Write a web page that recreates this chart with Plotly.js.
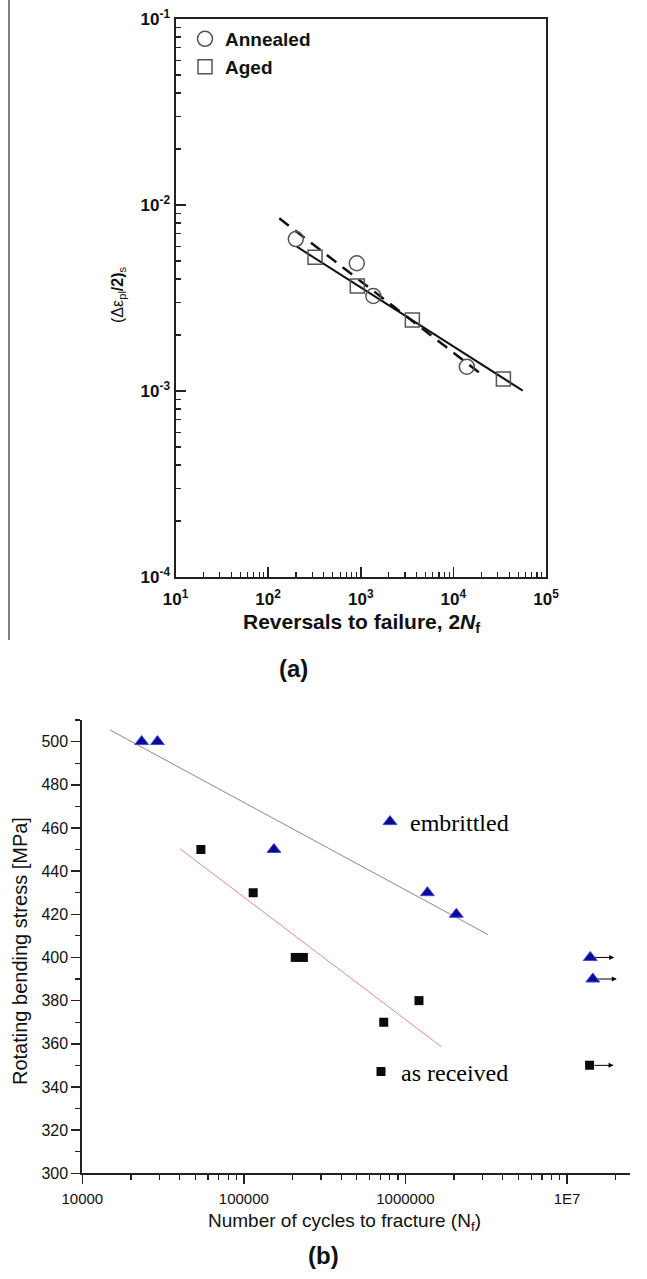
<!DOCTYPE html>
<html>
<head>
<meta charset="utf-8">
<script src="https://cdn.plot.ly/plotly-3.0.1.min.js"></script>
<style>html,body{margin:0;padding:0;background:#fff;}#chart{width:647px;height:1279px;}</style>
</head>
<body>
<div id="chart"></div>
<script>
// ---------- Panel (a) data ----------
const annealedN = [199, 906, 1368, 13960];
const annealedStrain = [0.00656, 0.00486, 0.00324, 0.00135];
const agedN = [321, 918, 3606, 34670];
const agedStrain = [0.00524, 0.00367, 0.00241, 0.00116];
const fitSolidN = [204, 56100];
const fitSolidStrain = [0.00597, 0.001005];
const fitDashN = [132, 19100];
const fitDashStrain = [0.00848, 0.001254];
const aXTickVals = [10, 100, 1000, 10000, 100000];
const aXTickText = ['10<sup>1</sup>', '10<sup>2</sup>', '10<sup>3</sup>', '10<sup>4</sup>', '10<sup>5</sup>'];
const aYTickVals = [0.0001, 0.001, 0.01, 0.1];
const aYTickText = ['10<sup>-4</sup>', '10<sup>-3</sup>', '10<sup>-2</sup>', '10<sup>-1</sup>'];

// ---------- Panel (b) data ----------
const embrittledN = [23300, 29200, 153500, 1368000, 2065000];
const embrittledS = [500, 500, 450, 430, 420];
const embrittledRunoutN = [13930000, 14450000];
const embrittledRunoutS = [400, 390];
const receivedN = [54200, 114200, 208000, 233500, 734000, 1213000];
const receivedS = [450, 430, 400, 400, 370, 380];
const receivedRunoutN = [13800000];
const receivedRunoutS = [350];
const embrittledFitN = [14830, 3240000];
const embrittledFitS = [505.4, 410.6];
const receivedFitN = [40200, 1670000];
const receivedFitS = [450.4, 358.6];
const bXTickVals = [10000, 100000, 1000000, 10000000];
const bXTickText = ['10000', '100000', '1000000', '1E7'];

// minor tick helpers
function logMinor(lo, hi) {
  const out = [];
  for (let e = lo; e < hi; e++) for (let k = 2; k <= 9; k++) out.push(k * Math.pow(10, e));
  return out;
}

const SANS = "Arial, 'Liberation Sans', sans-serif";
const SERIF = "'Times New Roman', 'Liberation Serif', serif";

const traces = [
  {x: fitDashN, y: fitDashStrain, xaxis: 'x', yaxis: 'y', mode: 'lines',
   line: {color: '#111', width: 2.5, dash: '12px,8px'}, showlegend: false},
  {x: fitSolidN, y: fitSolidStrain, xaxis: 'x', yaxis: 'y', mode: 'lines',
   line: {color: '#111', width: 2}, showlegend: false},
  {x: annealedN, y: annealedStrain, xaxis: 'x', yaxis: 'y', mode: 'markers', name: 'Annealed',
   legend: 'legend',
   marker: {symbol: 'circle-open', size: 15, color: '#555', line: {width: 1.5, color: '#555'}}},
  {x: agedN, y: agedStrain, xaxis: 'x', yaxis: 'y', mode: 'markers', name: 'Aged',
   legend: 'legend2',
   marker: {symbol: 'square-open', size: 14, color: '#555', line: {width: 1.5, color: '#555'}}},

  {x: embrittledFitN, y: embrittledFitS, xaxis: 'x2', yaxis: 'y2', mode: 'lines',
   line: {color: '#8a8a8a', width: 1}, showlegend: false},
  {x: receivedFitN, y: receivedFitS, xaxis: 'x2', yaxis: 'y2', mode: 'lines',
   line: {color: '#e58a8a', width: 1}, showlegend: false},
  {x: embrittledN.concat(embrittledRunoutN), y: embrittledS.concat(embrittledRunoutS),
   xaxis: 'x2', yaxis: 'y2', mode: 'markers', name: 'embrittled', legend: 'legend3',
   marker: {symbol: 'triangle-up', size: 12, color: '#0a0a96', line: {width: 1, color: '#3b4bd0'}}},
  {x: receivedN.concat(receivedRunoutN), y: receivedS.concat(receivedRunoutS),
   xaxis: 'x2', yaxis: 'y2', mode: 'markers', name: 'as received', legend: 'legend4',
   marker: {symbol: 'square', size: 9, color: '#0a0a0a', line: {width: 0}}}
];

const annotations = [];
function runoutArrow(n, s) {
  annotations.push({xref: 'x2', yref: 'y2', x: Math.log10(n), y: s, text: ' ', showarrow: true,
    ax: 26, ay: 0, arrowside: 'start', startarrowhead: 2, startarrowsize: 1, arrowwidth: 1,
    arrowcolor: '#000', standoff: 5, font: {size: 4}});
}
embrittledRunoutN.forEach((n, i) => runoutArrow(n, embrittledRunoutS[i]));
receivedRunoutN.forEach((n, i) => runoutArrow(n, receivedRunoutS[i]));

// titles
annotations.push(
  {xref: 'paper', yref: 'paper', x: 361 / 647, y: 1 - 623 / 1279, xanchor: 'center', yanchor: 'middle',
   showarrow: false, text: '<b>Reversals to failure, 2<i>N</i><sub>f</sub></b>',
   font: {family: SANS, size: 21, color: '#111'}},
  {xref: 'paper', yref: 'paper', x: 118 / 647, y: 1 - 295 / 1279, xanchor: 'center', yanchor: 'middle',
   showarrow: false, textangle: -90, text: '(Δε<sub>pl</sub><b>/2)</b><sub>s</sub>',
   font: {family: SANS, size: 16, color: '#111'}},
  {xref: 'paper', yref: 'paper', x: 293 / 647, y: 1 - 668 / 1279, xanchor: 'center', yanchor: 'middle',
   showarrow: false, text: '<b>(a)</b>', font: {family: SANS, size: 24, color: '#111'}},
  {xref: 'paper', yref: 'paper', x: 344 / 647, y: 1 - 1222 / 1279, xanchor: 'center', yanchor: 'middle',
   showarrow: false, text: 'Number of cycles to fracture (N<sub>f</sub>)',
   font: {family: SANS, size: 19, color: '#111'}},
  {xref: 'paper', yref: 'paper', x: 20 / 647, y: 1 - 951 / 1279, xanchor: 'center', yanchor: 'middle',
   showarrow: false, textangle: -90, text: 'Rotating bending stress [MPa]',
   font: {family: SANS, size: 20, color: '#111'}},
  {xref: 'paper', yref: 'paper', x: 323 / 647, y: 1 - 1255 / 1279, xanchor: 'center', yanchor: 'middle',
   showarrow: false, text: '<b>(b)</b>', font: {family: SANS, size: 24, color: '#111'}}
);

const legA = {family: SANS, size: 19, color: '#111', weight: 'bold'};
const legB = {family: SERIF, size: 24, color: '#000'};
function leg(xpx, ypx, font) {
  return {x: xpx / 647, y: 1 - ypx / 1279, xanchor: 'left', yanchor: 'middle',
    bgcolor: 'rgba(0,0,0,0)', borderwidth: 0, font: font};
}

const layout = {
  width: 647, height: 1279,
  margin: {l: 0, r: 0, t: 0, b: 0},
  paper_bgcolor: '#fff', plot_bgcolor: '#fff',
  hovermode: false,
  xaxis: {type: 'log', domain: [175.5 / 647, 546 / 647], range: [1, 5], anchor: 'y',
    tickmode: 'array', tickvals: aXTickVals, ticktext: aXTickText,
    ticks: 'inside', ticklen: 10, tickwidth: 1.5, tickcolor: '#222',
    minor: {tickmode: 'array', tickvals: logMinor(1, 5), ticks: 'inside', ticklen: 5, tickwidth: 1.2, tickcolor: '#222', showgrid: false},
    showline: true, linecolor: '#222', linewidth: 2, mirror: true, showgrid: false, zeroline: false,
    ticklabelstandoff: 6,
    tickfont: {family: SANS, size: 17, color: '#111', weight: 'bold'}},
  yaxis: {type: 'log', domain: [1 - 577 / 1279, 1 - 19 / 1279], range: [-4, -1], anchor: 'x',
    tickmode: 'array', tickvals: aYTickVals, ticktext: aYTickText,
    ticks: 'inside', ticklen: 10, tickwidth: 1.5, tickcolor: '#222',
    minor: {tickmode: 'array', tickvals: logMinor(-4, -1), ticks: 'inside', ticklen: 5, tickwidth: 1.2, tickcolor: '#222', showgrid: false},
    showline: true, linecolor: '#222', linewidth: 2, mirror: true, showgrid: false, zeroline: false,
    tickfont: {family: SANS, size: 17, color: '#111', weight: 'bold'}},
  xaxis2: {type: 'log', domain: [82.3 / 647, 630 / 647], range: [4, 7.39], anchor: 'y2',
    tickmode: 'array', tickvals: bXTickVals, ticktext: bXTickText,
    ticks: 'outside', ticklen: 9, tickwidth: 1.5, tickcolor: '#222',
    minor: {tickmode: 'array', tickvals: logMinor(4, 8).filter(v => v < 24000000), ticks: 'outside', ticklen: 5, tickwidth: 1.2, tickcolor: '#222', showgrid: false},
    showline: true, linecolor: '#222', linewidth: 2, showgrid: false, zeroline: false,
    ticklabelstandoff: 2,
    tickfont: {family: SANS, size: 15, color: '#111'}},
  yaxis2: {domain: [1 - 1173.3 / 1279, 1 - 720 / 1279], range: [300, 510], anchor: 'x2',
    tickmode: 'linear', tick0: 300, dtick: 20,
    ticks: 'outside', ticklen: 9, tickwidth: 1.5, tickcolor: '#222',
    minor: {dtick: 10, tick0: 300, ticks: 'outside', ticklen: 5, tickwidth: 1.2, tickcolor: '#222', showgrid: false},
    showline: true, linecolor: '#222', linewidth: 2, showgrid: false, zeroline: false,
    tickfont: {family: SANS, size: 16, color: '#111'}},
  legend: leg(185, 39, legA),
  legend2: leg(185, 67, legA),
  legend3: leg(370, 822, legB),
  legend4: leg(361, 1072, legB),
  annotations: annotations,
  shapes: [{type: 'line', xref: 'paper', yref: 'paper', x0: 9 / 647, x1: 9 / 647, y0: 1, y1: 1 - 640 / 1279,
    line: {color: '#555', width: 1.5}}]
};

Plotly.newPlot('chart', traces, layout, {staticPlot: true, displayModeBar: false});
</script>
</body>
</html>
